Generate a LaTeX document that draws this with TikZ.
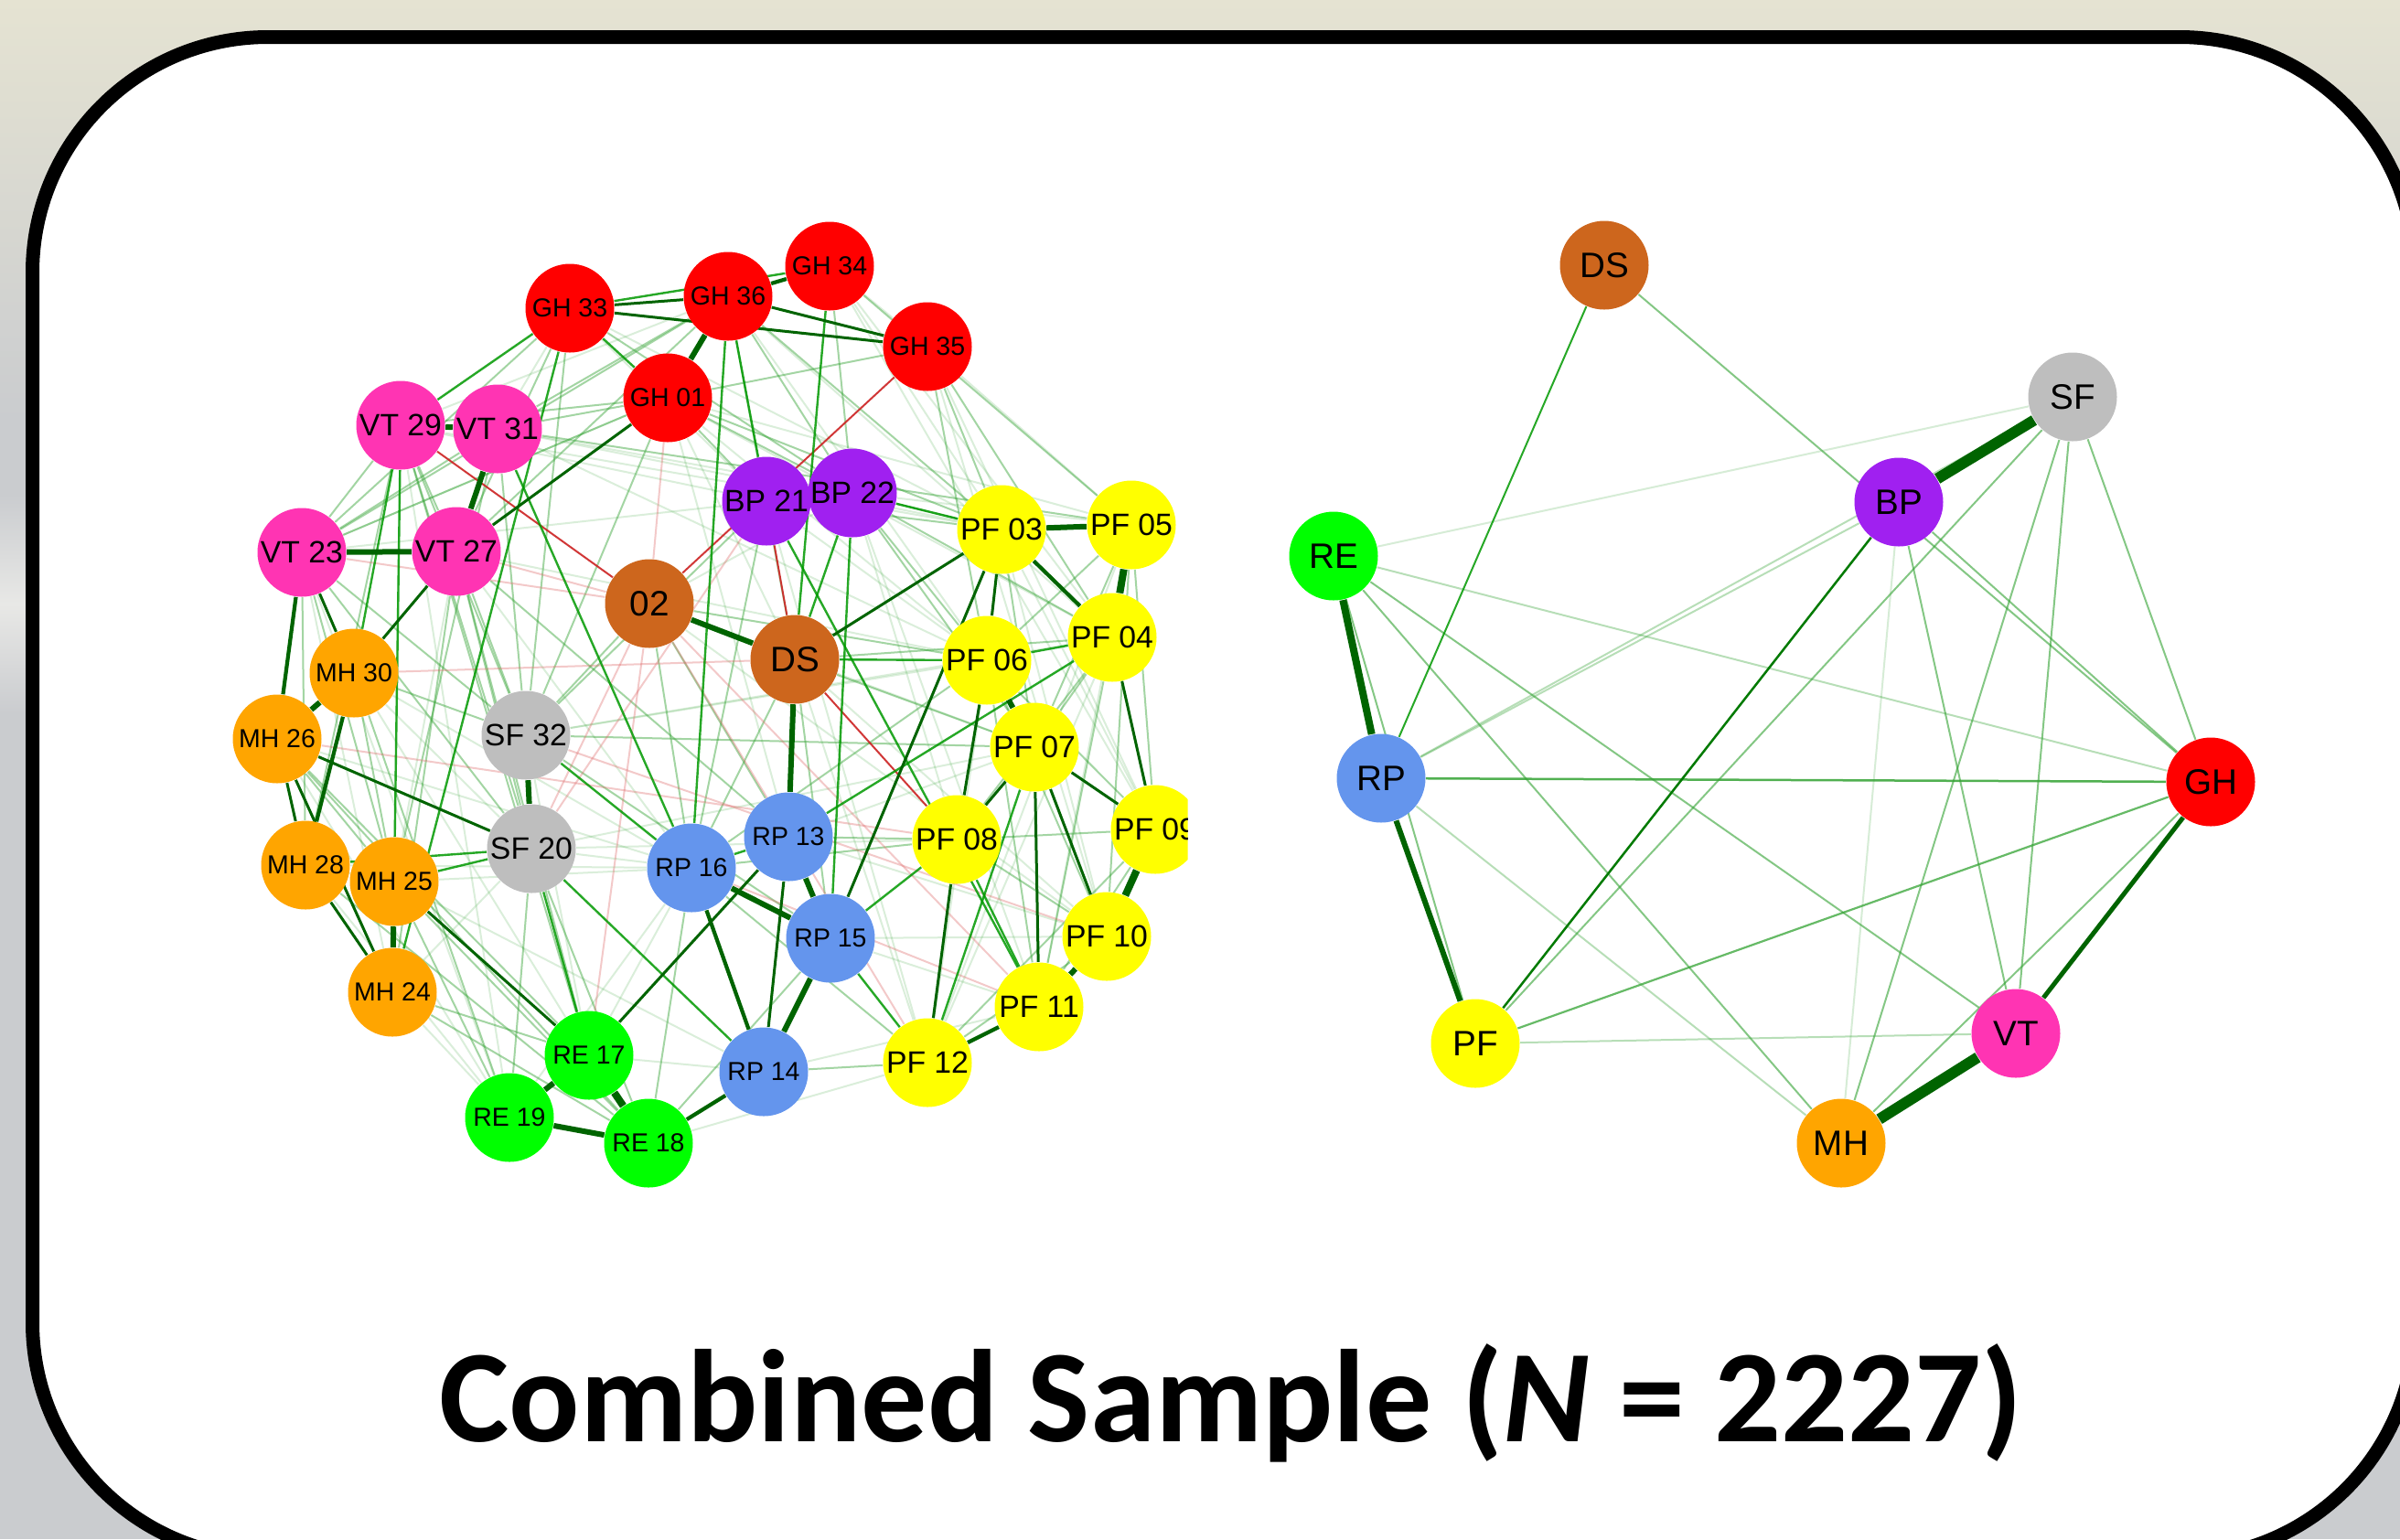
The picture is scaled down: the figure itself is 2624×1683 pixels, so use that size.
\documentclass[tikz,border=0pt]{standalone}
\usepackage{fontspec}
\setmainfont{Liberation Sans}
\newfontfamily\titlefont{Carlito}

\definecolor{ghc}{HTML}{FF0000}
\definecolor{vtc}{HTML}{FF34B3}
\definecolor{bpc}{HTML}{A020F0}
\definecolor{dsc}{HTML}{CD661D}
\definecolor{pfc}{HTML}{FFFF00}
\definecolor{mhc}{HTML}{FFA500}
\definecolor{sfc}{HTML}{BEBEBE}
\definecolor{rpc}{HTML}{6495ED}
\definecolor{rec}{HTML}{00FF00}
\definecolor{dkg}{HTML}{006400}
\definecolor{mdg}{HTML}{009900}
\definecolor{lgg}{HTML}{33A333}
\definecolor{ngr}{HTML}{CC2222}
\definecolor{lrd}{HTML}{DD6666}
\definecolor{bgBeige}{RGB}{229,227,210}
\definecolor{bgGray}{RGB}{202,204,207}
\definecolor{bgLight}{RGB}{232,232,230}

\pgfdeclarelayer{back}
\pgfdeclarelayer{edges}
\pgfsetlayers{back,edges,main}

\tikzset{
  nd/.style={circle, minimum size=9.7mm, inner sep=0pt, text=black},
  fs/.style={font=\fontsize{8.1}{8.1}\selectfont},
  fm/.style={font=\fontsize{9.6}{9.6}\selectfont},
  fl/.style={font=\fontsize{11}{11}\selectfont},
  wA/.style={draw=dkg, line width=0.8mm},
  wB/.style={draw=dkg, line width=0.6mm},
  wC/.style={draw=dkg, line width=0.42mm},
  wD/.style={draw=dkg, line width=0.3mm},
  wE/.style={draw=mdg, line width=0.24mm, draw opacity=0.85},
  wF/.style={draw=lgg, line width=0.2mm, draw opacity=0.45},
  wG/.style={draw=lgg, line width=0.2mm, draw opacity=0.18},
  wR/.style={draw=ngr, line width=0.2mm, draw opacity=0.9},
  wP/.style={draw=lrd, line width=0.2mm, draw opacity=0.35},
}

\begin{document}
\begin{tikzpicture}[x=0.1mm, y=-0.1mm]
\useasboundingbox (0,0) rectangle (2624,1683);

% backdrop and framed panel
\begin{pgfonlayer}{back}
  \fill[bgGray] (0,0) rectangle (2624,1683);
  \shade[top color=bgBeige, bottom color=bgGray] (0,0) rectangle (2624,460);
  \shade[top color=bgGray, bottom color=bgLight] (0,540) rectangle (60,660);
  \shade[top color=bgLight, bottom color=bgGray] (0,660) rectangle (60,780);
  \draw[line width=1.5mm, fill=white, rounded corners=25.75mm]
    (35.5,40.5) rectangle (2640.5,1703.5);
\end{pgfonlayer}

% ---------- item-level network ----------
\node[nd,fill=ghc,fs] (gh33) at (623,337) {GH 33};
\node[nd,fill=ghc,fs] (gh36) at (796,324) {GH 36};
\node[nd,fill=ghc,fs] (gh34) at (907,291) {GH 34};
\node[nd,fill=ghc,fs] (gh35) at (1014,379) {GH 35};
\node[nd,fill=ghc,fs] (gh01) at (730,435) {GH 01};
\node[nd,fill=vtc,fm] (vt29) at (438,465) {VT 29};
\node[nd,fill=vtc,fm] (vt31) at (544,469) {VT 31};
\node[nd,fill=vtc,fm] (vt23) at (330,604) {VT 23};
\node[nd,fill=vtc,fm] (vt27) at (499,603) {VT 27};
\node[nd,fill=bpc,fm] (bp21) at (838,548) {BP 21};
\node[nd,fill=bpc,fm] (bp22) at (932,539) {BP 22};
\node[nd,fill=pfc,fm] (pf03) at (1095,579) {PF 03};
\node[nd,fill=pfc,fm] (pf05) at (1237,574) {PF 05};
\node[nd,fill=dsc,fl] (n02) at (710,660) {02};
\node[nd,fill=dsc,fl] (ds) at (869,721) {DS};
\node[nd,fill=pfc,fm] (pf06) at (1079,722) {PF 06};
\node[nd,fill=pfc,fm] (pf04) at (1216,697) {PF 04};
\node[nd,fill=mhc,fs] (mh30) at (387,736) {MH 30};
\node[nd,fill=mhc,fs] (mh26) at (303,808) {MH 26};
\node[nd,fill=sfc,fm] (sf32) at (575,804) {SF 32};
\node[nd,fill=pfc,fm] (pf07) at (1131,817) {PF 07};
\node[nd,fill=sfc,fm] (sf20) at (581,928) {SF 20};
\node[nd,fill=rpc,fs] (rp16) at (756,949) {RP 16};
\node[nd,fill=rpc,fs] (rp13) at (862,915) {RP 13};
\node[nd,fill=pfc,fm] (pf08) at (1046,918) {PF 08};
\begin{scope}
  \clip (0,0) rectangle (1298.5,1683);
  \node[nd,fill=pfc,fm] (pf09) at (1263,907) {PF 09};
\end{scope}
\node[nd,fill=mhc,fs] (mh28) at (334,946) {MH 28};
\node[nd,fill=mhc,fs] (mh25) at (431,964) {MH 25};
\node[nd,fill=rpc,fs] (rp15) at (908,1026) {RP 15};
\node[nd,fill=pfc,fm] (pf10) at (1210,1024) {PF 10};
\node[nd,fill=mhc,fs] (mh24) at (429,1085) {MH 24};
\node[nd,fill=pfc,fm] (pf11) at (1136,1101) {PF 11};
\node[nd,fill=rec,fs] (re17) at (644,1154) {RE 17};
\node[nd,fill=rpc,fs] (rp14) at (835,1172) {RP 14};
\node[nd,fill=pfc,fm] (pf12) at (1014,1162) {PF 12};
\node[nd,fill=rec,fs] (re19) at (557,1222) {RE 19};
\node[nd,fill=rec,fs] (re18) at (709,1250) {RE 18};

% ---------- domain-level network ----------
\node[nd,fill=dsc,fl] (rDS) at (1754,290) {DS};
\node[nd,fill=sfc,fl] (rSF) at (2266,434) {SF};
\node[nd,fill=bpc,fl] (rBP) at (2076,549) {BP};
\node[nd,fill=rec,fl] (rRE) at (1458,608) {RE};
\node[nd,fill=rpc,fl] (rRP) at (1510,851) {RP};
\node[nd,fill=ghc,fl] (rGH) at (2417,855) {GH};
\node[nd,fill=pfc,fl] (rPF) at (1613,1141) {PF};
\node[nd,fill=vtc,fl] (rVT) at (2204,1130) {VT};
\node[nd,fill=mhc,fl] (rMH) at (2013,1250) {MH};

\node[font=\titlefont\fontsize{41}{41}\selectfont\bfseries, anchor=base, inner sep=0pt]
  (title) at (1346,1576) {Combined Sample (\textit{N} = 2227)};

\begin{pgfonlayer}{edges}
  % faint links
  \foreach \a/\b in {gh35/pf05, gh35/pf09, gh34/pf03, gh34/pf04, gh36/pf06, gh33/bp21,
      gh33/pf03, gh01/pf06, gh01/pf04, gh01/ds, gh01/rp13, vt29/bp21, vt31/bp22,
      vt29/gh36, vt23/gh01, vt23/re19, vt23/mh24, vt29/mh24, vt29/re19, vt27/rp16,
      vt27/mh25, mh30/sf20, mh30/re17, mh26/re19, mh28/re19, mh24/sf20, sf32/re17,
      sf32/pf06, sf20/pf08, sf20/rp16, n02/bp22, n02/pf07, ds/pf12, ds/pf10,
      bp21/pf06, bp22/pf05, bp22/pf08, pf03/pf09, pf03/pf10, pf05/pf11, pf05/pf12,
      pf06/pf12, pf04/pf12, rp13/pf07, rp15/pf11, rp14/pf11, rp16/re17, rp16/re19,
      rp14/re17, re18/pf12, gh34/pf09, gh36/pf04, gh33/vt31, gh01/pf05, vt31/pf03,
      vt29/pf03, vt23/bp21, vt31/pf06, mh30/rp16, mh26/rp16, mh25/rp14, mh24/re19,
      sf32/pf04, sf20/pf07, n02/pf10, bp21/pf12, bp22/pf11, pf07/pf09, rp13/pf10,
      rp15/pf10, gh35/pf10, gh34/gh35, vt27/pf06, mh28/rp16, mh25/rp16}
    \draw[wG] (\a) -- (\b);
  % light links
  \foreach \a/\b in {gh35/gh01, gh35/pf03, gh35/pf06, gh35/pf04, gh01/bp21, gh01/bp22,
      gh01/pf03, gh01/vt31, gh01/vt29, gh01/vt23, gh36/vt31, gh36/vt23, gh36/vt27,
      gh33/vt27, gh33/vt23, gh33/sf32, gh36/pf03, gh34/pf05, gh36/ds, vt29/vt23,
      vt29/vt27, vt29/mh28, vt29/sf20, vt29/re17, vt31/vt23, vt31/mh25, vt27/sf32,
      vt27/sf20, vt27/re17, vt27/mh24, vt23/mh25, vt23/mh28, vt23/sf20, vt23/sf32,
      vt31/sf32, mh30/mh25, mh30/sf32, mh30/re19, mh26/mh25, mh26/re17, mh26/re18,
      mh28/mh25, mh28/re18, mh25/re18, mh25/re19, mh24/re18, mh24/re17, sf20/re19,
      sf20/re18, sf32/pf07, sf32/rp15, n02/sf32, n02/rp16, n02/pf06, n02/rp13,
      bp21/bp22, bp21/pf03, bp21/rp16, bp21/sf32, bp22/pf06, bp22/pf04, bp22/pf07,
      ds/pf04, ds/pf07, ds/rp16, ds/rp15, pf03/pf07, pf05/pf06, pf05/pf07, pf05/pf09,
      pf05/pf10, pf04/pf07, pf04/pf08, pf04/pf11, pf06/pf09, pf06/pf10, pf06/pf11,
      pf08/pf09, pf08/pf10, pf09/pf11, pf09/pf12, pf10/pf12, rp16/re18, rp16/pf12,
      rp14/pf12, rp15/re18, rp13/pf08, pf06/rp16, rp16/pf08, gh01/sf32, vt29/sf32,
      vt27/rp13, gh36/bp22, gh33/bp22, bp22/pf03, gh34/bp22, vt31/pf05}
    \draw[wF] (\a) -- (\b);
  % negative links
  \foreach \a/\b in {mh30/ds, gh01/n02, vt27/n02, vt23/n02, sf20/n02, re17/n02,
      n02/pf11, n02/pf12, mh26/pf08, sf32/pf10, rp16/pf11, bp21/sf20}
    \draw[wP] (\a) -- (\b);
  \foreach \a/\b in {gh35/n02, bp21/ds, vt29/n02, ds/pf08}
    \draw[wR] (\a) -- (\b);
  % moderate links
  \foreach \a/\b in {gh33/gh34, gh33/gh01, gh33/vt29, gh34/ds, gh36/bp21, bp22/pf03,
      ds/bp22, ds/pf06, pf06/pf04, bp22/rp15, bp21/pf11, vt31/rp16, rp13/rp16,
      rp13/pf04, pf08/rp15, pf08/pf11, sf20/re17, sf20/rp14, sf32/rp16, mh25/sf20,
      mh28/sf20, rp15/pf12, gh33/mh24, pf07/pf12, gh36/rp16, vt29/mh30, vt29/mh25}
    \draw[wE] (\a) -- (\b);
  % strong links
  \foreach \a/\b in {gh33/gh36, gh33/gh35, gh36/gh35, vt27/gh01, vt23/mh30, vt27/mh30,
      ds/pf03, pf03/pf06, pf03/rp15, pf07/pf08, pf07/pf09, pf07/pf11, pf07/pf10,
      pf08/pf12, pf04/pf09, rp13/rp14, re17/rp13, mh26/sf20, mh25/re17, mh28/mh24,
      mh26/mh24, mh26/mh28, pf06/pf08}
    \draw[wD] (\a) -- (\b);
  \foreach \a/\b in {gh36/gh34, pf03/pf04, rp16/rp14, rp14/re18, mh30/mh28, pf11/pf12,
      vt23/mh26}
    \draw[wC] (\a) -- (\b);
  \foreach \a/\b in {vt29/vt31, gh36/gh01, n02/ds, ds/rp13, pf03/pf05, pf06/pf07,
      rp15/rp14, rp16/rp15, rp13/rp15, sf32/sf20, mh25/mh24, re17/re19, re19/re18,
      pf10/pf11, mh30/mh26, vt31/vt27, vt23/vt27}
    \draw[wB] (\a) -- (\b);
  \foreach \a/\b in {re17/re18, pf05/pf04, pf09/pf10}
    \draw[wA] (\a) -- (\b);

  % domain network links
  \foreach \a/\b in {rRE/rSF, rBP/rMH}
    \draw[draw=lgg, line width=0.2mm, draw opacity=0.2] (\a) -- (\b);
  \foreach \a/\b in {rRE/rGH, rRP/rMH, rPF/rVT, rBP/rRP, rSF/rRP}
    \draw[draw=lgg, line width=0.2mm, draw opacity=0.35] (\a) -- (\b);
  \foreach \a/\b in {rDS/rGH, rBP/rGH, rSF/rGH, rSF/rVT, rSF/rMH, rSF/rPF, rBP/rVT,
      rRE/rVT, rRE/rMH, rRE/rPF, rGH/rMH}
    \draw[draw=lgg, line width=0.2mm, draw opacity=0.6] (\a) -- (\b);
  \draw[draw=lgg, line width=0.22mm, draw opacity=0.75] (rPF) -- (rGH);
  \draw[draw=lgg, line width=0.25mm, draw opacity=0.85] (rRP) -- (rGH);
  \draw[draw=mdg, line width=0.2mm, draw opacity=0.85] (rDS) -- (rRP);
  \draw[draw=mdg!80!black, line width=0.25mm] (rBP) -- (rPF);
  \draw[draw=dkg, line width=0.5mm] (rGH) -- (rVT);
  \draw[draw=dkg, line width=0.6mm] (rRP) -- (rPF);
  \draw[draw=dkg, line width=0.8mm] (rRE) -- (rRP);
  \draw[draw=dkg, line width=1.2mm] (rSF) -- (rBP);
  \draw[draw=dkg, line width=1.2mm] (rMH) -- (rVT);
\end{pgfonlayer}
\end{tikzpicture}
\end{document}
